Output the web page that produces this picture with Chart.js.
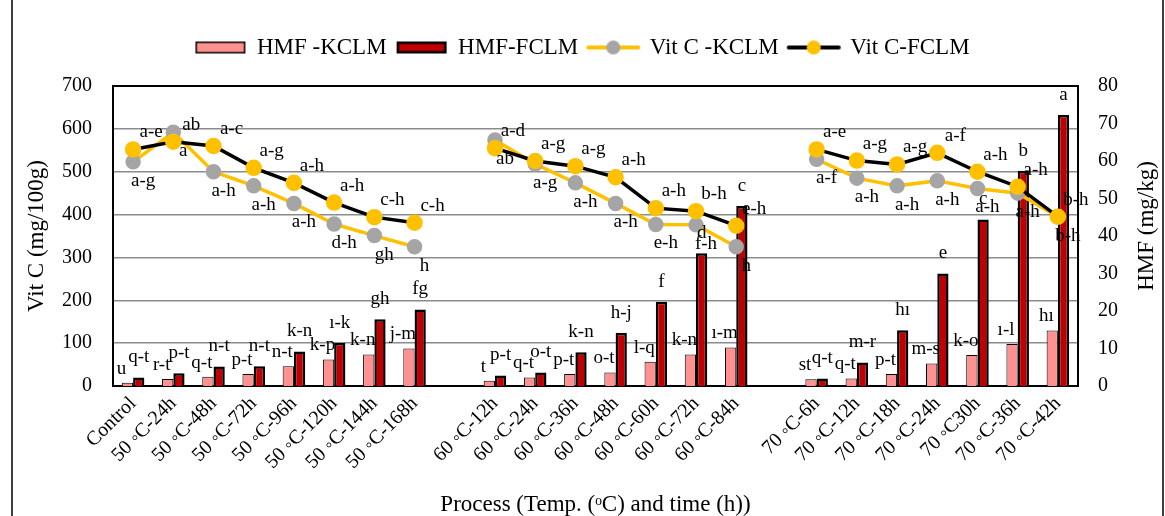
<!DOCTYPE html>
<html>
<head>
<meta charset="utf-8">
<script src="https://cdn.jsdelivr.net/npm/chart.js@4.4.1/dist/chart.umd.min.js"></script>
<style>
  html, body { margin: 0; padding: 0; background: #fff; }
  canvas { display: block; }
</style>
</head>
<body>
<canvas id="vitcChart" width="1165" height="516"></canvas>
<script>
// categories (the empty ones are the gaps between temperature groups)
const categories = [
  'Control', '50 ◦C-24h', '50 ◦C-48h', '50 ◦C-72h', '50 ◦C-96h', '50 ◦C-120h', '50 ◦C-144h', '50 ◦C-168h',
  '',
  '60 ◦C-12h', '60 ◦C-24h', '60 ◦C-36h', '60 ◦C-48h', '60 ◦C-60h', '60 ◦C-72h', '60 ◦C-84h',
  '',
  '70 ◦C-6h', '70 ◦C-12h', '70 ◦C-18h', '70 ◦C-24h', '70 ◦C30h', '70 ◦C-36h', '70 ◦C-42h'
];

// HMF (mg/kg) - right axis
const hmfKclm = [0.9, 1.9, 2.5, 3.2, 5.3, 7.1, 8.4, 10.0, null, 1.4, 2.3, 3.2, 3.6, 6.5, 8.4, 10.3, null, 1.8, 2.0, 3.2, 6.0, 8.3, 11.2, 14.8];
const hmfFclm = [2.3, 3.4, 5.2, 5.3, 9.2, 11.5, 17.8, 20.4, null, 2.8, 3.6, 9.0, 14.2, 22.5, 35.4, 48.0, null, 2.0, 6.3, 14.9, 30.0, 44.4, 57.4, 72.3];

// Vit C (mg/100g) - left axis
const vitcKclm = [523, 592, 500, 467, 426, 378, 351, 325, null, 574, 518, 474, 426, 377, 376, 325, null, 529, 485, 467, 479, 461, 450, 395];
const vitcFclm = [552, 570, 560, 509, 474, 428, 394, 381, null, 555, 525, 513, 487, 415, 408, 374, null, 552, 526, 517, 544, 500, 465, 395];

// significance letters
const lblHmfKclm = ['u', 'r-t', 'q-t', 'p-t', 'n-t', 'k-p', 'k-n', 'j-m', null, 't', 'q-t', 'p-t', 'o-t', 'l-q', 'k-n', 'ı-m', null, 'st', 'q-t', 'p-t', 'm-s', 'k-o', 'ı-l', 'hı'];
const lblHmfFclm = ['q-t', 'p-t', 'n-t', 'n-t', 'k-n', 'ı-k', 'gh', 'fg', null, 'p-t', 'o-t', 'k-n', 'h-j', 'f', 'd', 'c', null, 'q-t', 'm-r', 'hı', 'e', 'c', 'b', 'a'];
const lblVitcKclm = ['a-g', 'a', 'a-h', 'a-h', 'a-h', 'd-h', 'gh', 'h', null, 'ab', 'a-g', 'a-h', 'a-h', 'e-h', 'f-h', 'h', null, 'a-f', 'a-h', 'a-h', 'a-h', 'a-h', 'a-h', 'b-h'];
const lblVitcFclm = ['a-e', 'ab', 'a-c', 'a-g', 'a-h', 'a-h', 'c-h', 'c-h', null, 'a-d', 'a-g', 'a-g', 'a-h', 'a-h', 'b-h', 'e-h', null, 'a-e', 'a-g', 'a-g', 'a-f', 'a-h', 'a-h', 'b-h'];

const serif = '"Liberation Serif", "Times New Roman", serif';

// legend swatches
function barSwatch(fill, bw) {
  const c = document.createElement('canvas');
  c.width = 52; c.height = 14;
  const g = c.getContext('2d');
  g.fillStyle = fill;
  g.fillRect(1, 1, 50, 12);
  g.lineWidth = bw;
  g.strokeStyle = '#000';
  g.strokeRect(1 + bw / 2, 1 + bw / 2, 50 - bw, 12 - bw);
  return c;
}
function lineSwatch(lineCol, dotCol) {
  const c = document.createElement('canvas');
  c.width = 56; c.height = 16;
  const g = c.getContext('2d');
  g.strokeStyle = lineCol; g.lineWidth = 4; g.lineCap = 'round';
  g.beginPath(); g.moveTo(3, 8); g.lineTo(53, 8); g.stroke();
  g.fillStyle = dotCol;
  g.beginPath(); g.arc(28, 8, 7, 0, Math.PI * 2); g.fill();
  return c;
}
const swatches = [
  barSwatch('#FF9191', 1.5),
  barSwatch('#C00000', 2.5),
  lineSwatch('#FFC000', '#A5A5A5'),
  lineSwatch('#000000', '#FFC000')
];

// letters above/below each mark
const letterSets = [lblHmfKclm, lblHmfFclm, lblVitcKclm, lblVitcFclm];
const letterShift = [[-6, -14], [0, -20], [10, 19], [18, -17]];

const extras = {
  id: 'extras',
  beforeLayout(chart) {
    const lg = chart.legend;
    if (lg && !lg._tall) {
      const fit = lg.fit;
      lg.fit = function () { fit.call(this); this.height = 60; };
      lg._tall = true;
    }
  },
  beforeDatasetsDraw(chart) {
    const {ctx, chartArea: a} = chart;
    ctx.save();
    ctx.strokeStyle = '#000';
    ctx.lineWidth = 2;
    ctx.strokeRect(a.left, a.top, a.right - a.left, a.bottom - a.top);
    ctx.restore();
  },
  afterDatasetsDraw(chart) {
    const ctx = chart.ctx;
    ctx.save();
    ctx.font = '19px ' + serif;
    ctx.fillStyle = '#000';
    ctx.textAlign = 'center';
    ctx.textBaseline = 'middle';
    letterSets.forEach((set, di) => {
      const meta = chart.getDatasetMeta(di);
      set.forEach((txt, i) => {
        if (!txt) return;
        const el = meta.data[i];
        ctx.fillText(txt, el.x + letterShift[di][0], el.y + letterShift[di][1]);
      });
    });
    ctx.restore();
  },
  afterDraw(chart) {
    const ctx = chart.ctx;
    ctx.save();
    // outer frame
    ctx.strokeStyle = '#000';
    ctx.lineWidth = 1.5;
    ctx.beginPath();
    ctx.moveTo(12, 0); ctx.lineTo(12, 516);
    ctx.moveTo(1163, 0); ctx.lineTo(1163, 516);
    ctx.stroke();
    // right axis title, reading bottom to top
    ctx.translate(1147, 226);
    ctx.rotate(-Math.PI / 2);
    ctx.font = '23px ' + serif;
    ctx.fillStyle = '#000';
    ctx.textAlign = 'center';
    ctx.textBaseline = 'middle';
    ctx.fillText('HMF (mg/kg)', 0, 0);
    ctx.restore();
  }
};

new Chart(document.getElementById('vitcChart'), {
  type: 'bar',
  data: {
    labels: categories,
    datasets: [
      {
        label: 'HMF -KCLM',
        data: hmfKclm,
        backgroundColor: '#FF9191',
        borderColor: '#000',
        borderWidth: 1,
        yAxisID: 'y1',
        order: 2,
        categoryPercentage: 0.56,
        barPercentage: 1.0
      },
      {
        label: 'HMF-FCLM',
        data: hmfFclm,
        backgroundColor: '#C00000',
        borderColor: '#000',
        borderWidth: 2.5,
        yAxisID: 'y1',
        order: 3,
        categoryPercentage: 0.56,
        barPercentage: 1.0
      },
      {
        type: 'line',
        label: 'Vit C -KCLM',
        data: vitcKclm,
        borderColor: '#FFC000',
        borderWidth: 3.5,
        pointBackgroundColor: '#A5A5A5',
        pointBorderColor: '#A5A5A5',
        pointRadius: 6,
        pointHoverRadius: 6,
        spanGaps: false,
        tension: 0,
        yAxisID: 'y',
        order: 1
      },
      {
        type: 'line',
        label: 'Vit C-FCLM',
        data: vitcFclm,
        borderColor: '#000000',
        borderWidth: 3.5,
        pointBackgroundColor: '#FFC000',
        pointBorderColor: '#FFC000',
        pointRadius: 6.5,
        pointHoverRadius: 6.5,
        spanGaps: false,
        tension: 0,
        yAxisID: 'y',
        order: 0
      }
    ]
  },
  options: {
    responsive: false,
    animation: false,
    layout: { padding: { top: 26, left: 0, right: 0, bottom: 0 } },
    plugins: {
      tooltip: { enabled: false },
      legend: {
        position: 'top',
        labels: {
          usePointStyle: true,
          pointStyleWidth: 50,
          padding: 10,
          color: '#000',
          font: { family: serif, size: 23 },
          sort: (a, b) => a.datasetIndex - b.datasetIndex,
          generateLabels(chart) {
            const items = Chart.defaults.plugins.legend.labels.generateLabels(chart);
            items.forEach(it => { it.pointStyle = swatches[it.datasetIndex]; });
            return items;
          }
        }
      }
    },
    scales: {
      x: {
        grid: { display: false, drawTicks: false },
        border: { display: false },
        ticks: {
          color: '#000',
          font: { family: serif, size: 20 },
          autoSkip: false,
          minRotation: 45,
          maxRotation: 45,
          padding: 6
        },
        title: {
          display: true,
          text: 'Process (Temp. (ᵒC) and time (h))',
          color: '#000',
          font: { family: serif, size: 23, lineHeight: 1 },
          padding: { top: 0, bottom: 0 }
        },
        afterFit(scale) { scale.height = 130; }
      },
      y: {
        position: 'left',
        min: 0,
        max: 700,
        ticks: {
          stepSize: 100,
          color: '#000',
          font: { family: serif, size: 20 },
          padding: 21
        },
        grid: { color: '#8c8c8c', lineWidth: 1.5, drawTicks: false },
        border: { display: false },
        title: {
          display: true,
          text: 'Vit C (mg/100g)',
          color: '#000',
          font: { family: serif, size: 23 },
          padding: { top: 23, bottom: 0 }
        },
        afterFit(scale) { scale.width = 113; }
      },
      y1: {
        position: 'right',
        min: 0,
        max: 80,
        ticks: {
          stepSize: 10,
          color: '#000',
          font: { family: serif, size: 20 },
          padding: 20
        },
        grid: { display: false, drawTicks: false },
        border: { display: false },
        afterFit(scale) { scale.width = 87; }
      }
    }
  },
  plugins: [extras]
});
</script>
</body>
</html>
